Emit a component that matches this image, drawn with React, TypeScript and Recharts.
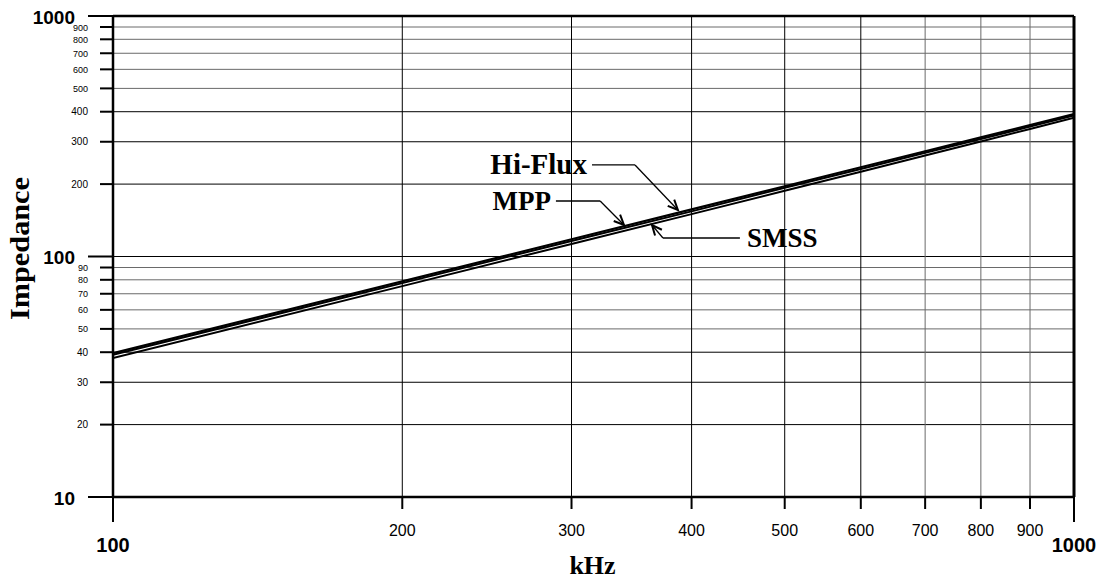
import { LineChart, Line, XAxis, YAxis, ReferenceLine } from "recharts";

// frequency (kHz) and impedance readings for the three core materials
const freqs = [100, 200, 300, 400, 500, 600, 700, 800, 900, 1000];
const hiFlux = [39.6, 78.8, 118, 157, 196, 235, 274, 313, 352, 391];
const mpp = [39, 77.5, 116, 154, 193, 231, 270, 308, 347, 386];
const smss = [37.8, 75.3, 112.8, 150, 187.6, 225, 262.8, 300.5, 339, 378];

const xTicks = [100, 200, 300, 400, 500, 600, 700, 800, 900, 1000];
const yTicks = [10, 20, 30, 40, 50, 60, 70, 80, 90, 100, 200, 300, 400, 500, 600, 700, 800, 900, 1000];
const xGrid = [200, 300, 400, 500, 600, 700, 800, 900];
const yGrid = [20, 30, 40, 50, 60, 70, 80, 90, 100, 200, 300, 400, 500, 600, 700, 800, 900];
const greyX = [700, 800, 900];
const greyY = [50, 60, 70, 80, 90, 500, 600, 700, 800, 900];
const majorY = [10, 100, 1000];
const majorX = [100, 1000];

// callouts, in data coordinates (kHz, impedance)
const callouts = [
  { name: "Hi-Flux", size: 29, side: "left", from: [315.1, 240.2], elbow: [349.3, 240.2], tip: [387.1, 156.1] },
  { name: "MPP", size: 27, side: "left", from: [289.0, 170.1], elbow: [321.3, 170.1], tip: [340.2, 135.2] },
  { name: "SMSS", size: 27, side: "right", from: [449.1, 119.4], elbow: [373.5, 119.4], tip: [363.8, 135.2] },
];

const data = freqs.map((f, i) => ({ f, hiFlux: hiFlux[i], mpp: mpp[i], smss: smss[i] }));

const sans = "'Liberation Sans', Arial, sans-serif";
const serif = "'Liberation Serif', 'Times New Roman', serif";

const YTick = (props: any) => {
  const { x, y, payload } = props;
  const v = payload.value;
  const major = majorY.includes(v);
  const small = [500, 600, 700, 800, 900, 50, 60, 70, 80, 90].includes(v);
  return (
    <g>
      <line x1={x - (major ? 25 : 13)} x2={x} y1={y} y2={y} stroke="#000" strokeWidth={2} />
      <text
        x={major ? x - 38 : x - 25}
        y={y}
        dy={major ? 7.5 : 3.5}
        textAnchor="end"
        fontFamily={sans}
        fontSize={major ? 19 : small ? 9 : 10}
        fontWeight={major ? 700 : 400}
        fill="#000"
      >
        {v}
      </text>
    </g>
  );
};

const XTick = (props: any) => {
  const { x, y, payload } = props;
  const v = payload.value;
  const major = majorX.includes(v);
  return (
    <g>
      <line x1={x} x2={x} y1={y} y2={y + (major ? 25 : 12)} stroke="#000" strokeWidth={2} />
      <text
        x={x}
        y={y + (major ? 55 : 39)}
        textAnchor="middle"
        fontFamily={sans}
        fontSize={major ? 20 : 16}
        fontWeight={major ? 700 : 400}
        fill="#000"
      >
        {v}
      </text>
    </g>
  );
};

const LeaderShape = (props: any) => {
  const { x1, y1, x2, y2, name, side, size } = props;
  return (
    <g>
      <line x1={x1} y1={y1} x2={x2} y2={y2} stroke="#000" strokeWidth={1.3} />
      <text
        x={side === "left" ? x1 - 5 : x1 + 7}
        y={y1 + 9}
        textAnchor={side === "left" ? "end" : "start"}
        fontFamily={serif}
        fontWeight={700}
        fontSize={size}
        fill="#000"
      >
        {name}
      </text>
    </g>
  );
};

const ArrowShape = (props: any) => {
  const { x1, y1, x2, y2 } = props;
  const ang = Math.atan2(y1 - y2, x1 - x2);
  const len = 11;
  const spread = 0.42;
  const ax = x2 + len * Math.cos(ang + spread);
  const ay = y2 + len * Math.sin(ang + spread);
  const bx = x2 + len * Math.cos(ang - spread);
  const by = y2 + len * Math.sin(ang - spread);
  return (
    <g>
      <line x1={x1} y1={y1} x2={x2} y2={y2} stroke="#000" strokeWidth={1.3} />
      <path d={`M${ax},${ay} L${x2},${y2} L${bx},${by}`} stroke="#000" strokeWidth={2} fill="none" />
    </g>
  );
};

const YLabel = (props: any) => {
  const vb = props.viewBox;
  const cx = 29;
  const cy = vb.y + vb.height / 2 - 8;
  return (
    <text
      x={cx}
      y={cy}
      transform={`rotate(-90, ${cx}, ${cy})`}
      textAnchor="middle"
      fontFamily={serif}
      fontWeight={700}
      fontSize={27}
      textLength={143}
      lengthAdjust="spacingAndGlyphs"
      fill="#000"
    >
      Impedance
    </text>
  );
};

const XLabel = (props: any) => {
  const vb = props.viewBox;
  return (
    <text
      x={vb.x + vb.width / 2 - 1}
      y={vb.y + 77}
      textAnchor="middle"
      fontFamily={serif}
      fontWeight={700}
      fontSize={26}
      fill="#000"
    >
      kHz
    </text>
  );
};

export default function App() {
  return (
    <div style={{ position: "absolute", left: 0, top: 0, background: "#fff" }}>
      <LineChart width={1098} height={580} data={data} margin={{ top: 16, right: 24, bottom: 0, left: 0 }}>
        <XAxis
          dataKey="f"
          type="number"
          scale="log"
          domain={[100, 1000]}
          allowDataOverflow
          ticks={xTicks}
          interval={0}
          tickSize={0}
          tickMargin={0}
          tickLine={false}
          tick={<XTick />}
          axisLine={{ stroke: "#000", strokeWidth: 2.5 }}
          height={83}
          label={<XLabel />}
        />
        <YAxis
          type="number"
          scale="log"
          domain={[10, 1000]}
          allowDataOverflow
          ticks={yTicks}
          interval={0}
          tickSize={0}
          tickMargin={0}
          tickLine={false}
          tick={<YTick />}
          axisLine={{ stroke: "#000", strokeWidth: 2.5 }}
          width={113}
          label={<YLabel />}
        />
        {yGrid.map((v) => (
          <ReferenceLine
            key={"y" + v}
            y={v}
            stroke={greyY.includes(v) ? "#6a6a6a" : "#000"}
            strokeWidth={1}
          />
        ))}
        {xGrid.map((v) => (
          <ReferenceLine
            key={"x" + v}
            x={v}
            stroke={greyX.includes(v) ? "#6a6a6a" : "#000"}
            strokeWidth={1}
          />
        ))}
        <ReferenceLine y={1000} stroke="#000" strokeWidth={2.5} />
        <ReferenceLine x={1000} stroke="#000" strokeWidth={3} />
        <Line type="linear" dataKey="hiFlux" stroke="#000" strokeWidth={2.2} dot={false} isAnimationActive={false} />
        <Line type="linear" dataKey="mpp" stroke="#000" strokeWidth={2} dot={false} isAnimationActive={false} />
        <Line type="linear" dataKey="smss" stroke="#000" strokeWidth={2} dot={false} isAnimationActive={false} />
        {callouts.map((c) => (
          <ReferenceLine
            key={"l" + c.name}
            segment={[
              { x: c.from[0], y: c.from[1] },
              { x: c.elbow[0], y: c.elbow[1] },
            ]}
            shape={(p: any) => <LeaderShape {...p} name={c.name} side={c.side} size={c.size} />}
          />
        ))}
        {callouts.map((c) => (
          <ReferenceLine
            key={"a" + c.name}
            segment={[
              { x: c.elbow[0], y: c.elbow[1] },
              { x: c.tip[0], y: c.tip[1] },
            ]}
            shape={(p: any) => <ArrowShape {...p} />}
          />
        ))}
      </LineChart>
    </div>
  );
}
